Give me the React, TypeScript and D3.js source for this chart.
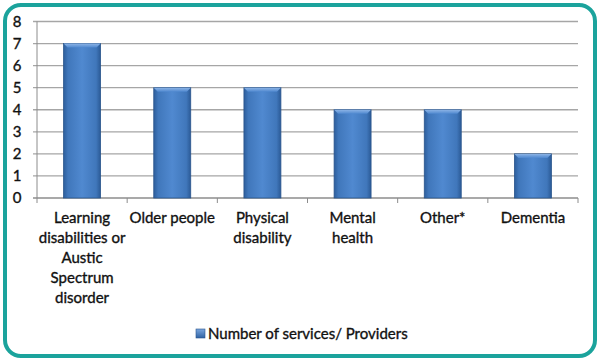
import React from "react";
import * as d3 from "d3";

const categories: string[][] = [
  ["Learning", "disabilities or", "Austic", "Spectrum", "disorder"],
  ["Older people"],
  ["Physical", "disability"],
  ["Mental", "health"],
  ["Other*"],
  ["Dementia"],
];
const values: number[] = [7, 5, 5, 4, 4, 2];
const yTicks: number[] = [0, 1, 2, 3, 4, 5, 6, 7, 8];
const seriesName = "Number of services/ Providers";

const W = 600;
const H = 363;
const left = 37;
const right = 578;
const top = 21.5;
const bottom = 198;
const font = "Lato, 'Open Sans', sans-serif";

export default function App() {
  const x = d3
    .scaleBand<number>()
    .domain(categories.map((_, i) => i))
    .range([left, right])
    .paddingInner(0.59)
    .paddingOuter(0.295);
  const band = d3.scaleBand<number>().domain(categories.map((_, i) => i)).range([left, right]);
  const y = d3.scaleLinear().domain([0, 8]).range([bottom, top]);
  const textProps = {
    fontFamily: font,
    fontSize: 15,
    fill: "#111",
    stroke: "#111",
    strokeWidth: 0.35,
  };

  return (
    <svg width={W} height={H} style={{ position: "absolute", left: 0, top: 0 }}>
      <defs>
        <linearGradient id="barG" x1="0" x2="1" y1="0" y2="0">
          <stop offset="0" stopColor="#2d5e9c" />
          <stop offset="0.12" stopColor="#4077bb" />
          <stop offset="0.5" stopColor="#5089d0" />
          <stop offset="0.88" stopColor="#4077bb" />
          <stop offset="1" stopColor="#2b5a96" />
        </linearGradient>
        <linearGradient id="topG" x1="0" x2="0" y1="0" y2="1">
          <stop offset="0" stopColor="#8db4e6" />
          <stop offset="1" stopColor="#5089d0" />
        </linearGradient>
        <linearGradient id="legG" x1="0" x2="0" y1="0" y2="1">
          <stop offset="0" stopColor="#7aa6de" />
          <stop offset="1" stopColor="#2f62a3" />
        </linearGradient>
      </defs>
      <rect x={0} y={0} width={W} height={H} fill="#fff" />
      <rect
        x={5}
        y={5}
        width={590}
        height={351}
        rx={16}
        ry={16}
        fill="#fff"
        stroke="#1ba39c"
        strokeWidth={4}
      />
      {yTicks.map((t) => (
        <g key={t}>
          <line
            x1={left - 4}
            x2={right}
            y1={y(t)}
            y2={y(t)}
            stroke={t === 0 ? "#8c8c8c" : "#a6a6a6"}
            strokeWidth={1.3}
          />
          <text x={17} y={y(t)} dy="0.35em" textAnchor="middle" {...textProps}>
            {t}
          </text>
        </g>
      ))}
      <line x1={left} x2={left} y1={top} y2={bottom} stroke="#8c8c8c" strokeWidth={1} />
      {d3.range(categories.length + 1).map((i) => {
        const xx = left + i * band.bandwidth();
        return <line key={i} x1={xx} x2={xx} y1={bottom} y2={bottom + 5} stroke="#8c8c8c" strokeWidth={1} />;
      })}
      {values.map((v, i) => {
        const bx = x(i)!;
        const bw = x.bandwidth();
        const by = y(v);
        const bh = bottom - by;
        return (
          <g key={i}>
            <rect x={bx} y={by} width={bw} height={bh} fill="url(#barG)" stroke="#2a558c" strokeWidth={0.8} />
            <path
              d={`M${bx},${by} L${bx + bw},${by} L${bx + bw - 4},${by + 4} L${bx + 4},${by + 4} Z`}
              fill="url(#topG)"
            />
          </g>
        );
      })}
      {categories.map((lines, i) => {
        const cx = band(i)! + band.bandwidth() / 2;
        return (
          <text key={i} textAnchor="middle" {...textProps}>
            {lines.map((l, j) => (
              <tspan key={j} x={cx} y={223 + j * 20}>
                {l}
              </tspan>
            ))}
          </text>
        );
      })}
      <rect x={196} y={329} width={9} height={9} fill="url(#legG)" stroke="#2a558c" strokeWidth={0.6} />
      <text x={208} y={339} {...textProps}>
        {seriesName}
      </text>
    </svg>
  );
}
